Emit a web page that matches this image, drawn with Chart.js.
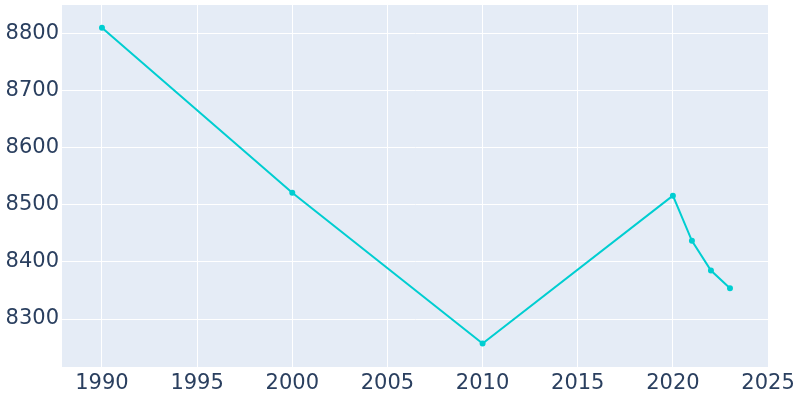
<!DOCTYPE html>
<html>
<head>
<meta charset="utf-8">
<script src="https://cdn.jsdelivr.net/npm/chart.js@4/dist/chart.umd.min.js"></script>
<style>
  html, body { margin: 0; padding: 0; background: #fff; }
  #wrap { width: 800px; height: 400px; }
</style>
</head>
<body>
<div id="wrap"><canvas id="grafico"></canvas></div>
<script>
// Datos
const anios = [1990, 2000, 2010, 2020, 2021, 2022, 2023];
const poblacion = [8810, 8521, 8257, 8516, 8437, 8385, 8354];
const ticksX = [1990, 1995, 2000, 2005, 2010, 2015, 2020, 2025];
const ticksY = [8300, 8400, 8500, 8600, 8700, 8800];

const colorTexto = "#2a3f5f";

// Fondo del área de trazado
const fondoPlot = {
  id: "fondoPlot",
  beforeDraw(chart) {
    const { ctx, chartArea } = chart;
    ctx.save();
    ctx.fillStyle = "#E5ECF6";
    ctx.fillRect(chartArea.left, chartArea.top, chartArea.right - chartArea.left, chartArea.bottom - chartArea.top);
    ctx.restore();
  }
};

new Chart(document.getElementById("grafico"), {
  type: "line",
  data: {
    datasets: [{
      data: anios.map((a, i) => ({ x: a, y: poblacion[i] })),
      borderColor: "#00CED1",
      backgroundColor: "#00CED1",
      borderWidth: 2,
      pointRadius: 2,
      pointHoverRadius: 3,
      fill: false,
      tension: 0
    }]
  },
  options: {
    responsive: true,
    maintainAspectRatio: false,
    animation: false,
    layout: { padding: { left: 0, right: 31, top: 1, bottom: 0 } },
    plugins: {
      legend: { display: false },
      tooltip: { enabled: false }
    },
    scales: {
      x: {
        type: "linear",
        min: 1987.9,
        max: 2025.05,
        afterBuildTicks: (eje) => { eje.ticks = ticksX.map(v => ({ value: v })); },
        afterFit: (eje) => { eje.height = 33; eje.paddingLeft = 0; eje.paddingRight = 0; },
        grid: { color: "#ffffff", lineWidth: 1, drawTicks: false },
        border: { display: false },
        ticks: {
          color: colorTexto,
          font: { family: "DejaVu Sans", size: 21 },
          padding: 4,
          maxRotation: 0,
          autoSkip: false,
          callback: (v) => String(v)
        }
      },
      y: {
        min: 8216,
        max: 8850,
        afterBuildTicks: (eje) => { eje.ticks = ticksY.map(v => ({ value: v })); },
        afterFit: (eje) => { eje.width = 62; eje.paddingTop = 0; eje.paddingBottom = 0; },
        grid: { color: "#ffffff", lineWidth: 1, drawTicks: false },
        border: { display: false },
        ticks: {
          color: colorTexto,
          font: { family: "DejaVu Sans", size: 21 },
          padding: 3,
          autoSkip: false,
          callback: (v) => String(v)
        }
      }
    }
  },
  plugins: [fondoPlot]
});
</script>
</body>
</html>
